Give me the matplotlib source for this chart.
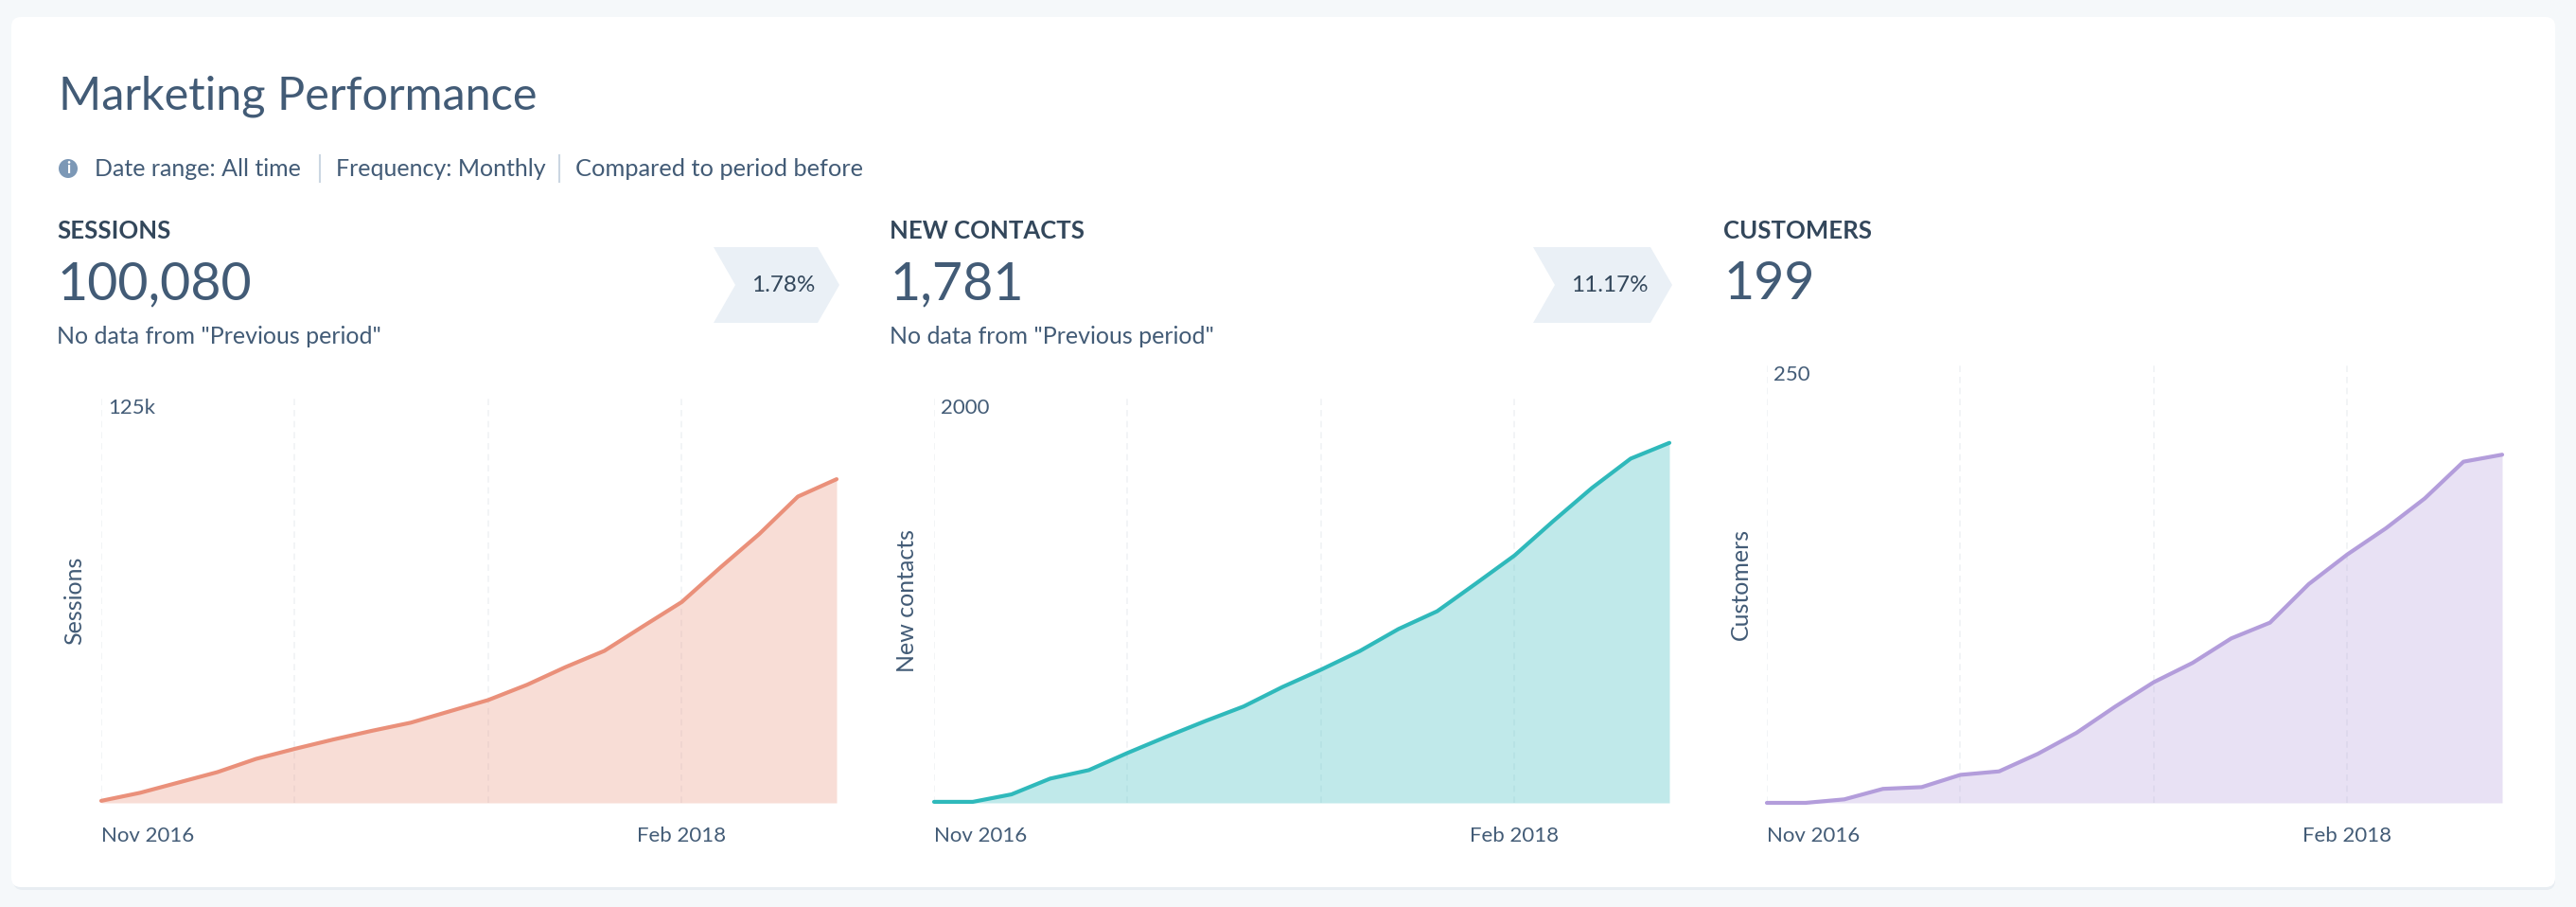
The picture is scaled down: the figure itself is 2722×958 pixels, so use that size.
import matplotlib
matplotlib.use('Agg')
import matplotlib.pyplot as plt
from matplotlib.patches import FancyBboxPatch, Polygon, Circle

W, H = 2722, 958

plt.rcParams['font.family'] = ['Lato', 'DejaVu Sans']

# monthly values, Nov 2016 .. Jun 2018
sessions = [630, 3100, 6300, 9500, 13600, 16700, 19600, 22300, 24800, 28300,
            31800, 36500, 42000, 47000, 54600, 62100, 72800, 83100, 94700, 100080]
new_contacts = [5, 5, 42, 120, 162, 247, 327, 404, 477, 573,
                659, 751, 860, 948, 1085, 1224, 1394, 1558, 1703, 1781]
customers = [0, 0, 2, 8, 9, 16, 18, 28, 40, 55,
             69, 80, 94, 103, 125, 142, 157, 174, 195, 199]
months = list(range(20))
grid_months = [0, 5, 10, 15]
x_ticks = [0, 15]
x_labels = ['Nov 2016', 'Feb 2018']

text_col = '#425b76'
dark_col = '#33475b'
badge_col = '#eaf0f6'


def fx(x):
    return x / W


def fy(y):
    return 1 - y / H


def draw_chart(box, values, top, top_label, ylabel, color, ylabel_x):
    left, right, ytop, ybot = box
    ax = fig.add_axes([fx(left), fy(ybot), fx(right - left), (ybot - ytop) / H])
    ax.patch.set_alpha(0)
    for g in grid_months:
        ax.axvline(g, color='#f0f2f5', lw=1.2, ls=(0, (4, 3)), zorder=1)
    ax.fill_between(months, values, 0, color=color, alpha=0.3, lw=0, zorder=2)
    ax.plot(months, values, color=color, lw=3, solid_capstyle='round',
            solid_joinstyle='round', zorder=3, clip_on=False)
    ax.set_xlim(0, 19)
    ax.set_ylim(0, top)
    for s in ax.spines.values():
        s.set_visible(False)
    ax.set_xticks(x_ticks, x_labels, fontsize=16, color=text_col)
    ax.get_xticklabels()[0].set_ha('left')
    ax.set_yticks([top], [top_label], fontsize=16, color=text_col)
    ax.get_yticklabels()[0].set_ha('left')
    ax.get_yticklabels()[0].set_va('top')
    ax.tick_params(axis='x', length=0, pad=18)
    ax.tick_params(axis='y', length=0, pad=-5)
    fig.text(fx(ylabel_x), fy(ybot) + (ybot - ytop) / H / 2, ylabel, rotation=90,
             ha='center', va='center', fontsize=18, color=text_col)
    return ax


def draw_head(x, name, total, note=None):
    fig.text(fx(x), fy(252), name, fontsize=18.5, color=dark_col, weight='bold', va='baseline')
    fig.text(fx(x + 1), fy(316), total, fontsize=40, color=text_col, va='baseline')
    if note:
        fig.text(fx(x), fy(363), note, fontsize=18, color=text_col, va='baseline')


def draw_badge(x0, x1, label):
    pts = [(x0, 261), (x1 - 23, 261), (x1, 301), (x1 - 23, 341), (x0, 341), (x0 + 23, 301)]
    bg.add_patch(Polygon(pts, closed=True, fc=badge_col, ec='none'))
    bg.text((x0 + x1) / 2 + 7, 301, label, fontsize=17.5, color=dark_col, ha='center', va='center')


fig = plt.figure(figsize=(W / 100, H / 100), dpi=100, facecolor='#f5f8fa')

# full-figure layer in pixels for the card and header furniture
bg = fig.add_axes([0, 0, 1, 1])
bg.set_xlim(0, W)
bg.set_ylim(H, 0)
bg.axis('off')
bg.add_patch(FancyBboxPatch((14, 21), 2686, 919, boxstyle='round,pad=0,rounding_size=10',
                            fc='#e8edf2', ec='none'))
bg.add_patch(FancyBboxPatch((12, 18), 2688, 919, boxstyle='round,pad=0,rounding_size=10',
                            fc='white', ec='none'))

bg.text(62, 115, 'Marketing Performance', fontsize=35, color=text_col, va='baseline')

bg.add_patch(Circle((72, 178), 10, fc='#7c98b6', ec='none'))
bg.text(72, 178, 'i', fontsize=12, color='white', ha='center', va='center', weight='bold')
bg.text(100, 186, 'Date range: All time', fontsize=18, color=text_col, va='baseline')
bg.plot([338, 338], [164, 192], color='#cbd6e2', lw=1.5)
bg.text(355, 186, 'Frequency: Monthly', fontsize=18, color=text_col, va='baseline')
bg.plot([591, 591], [164, 192], color='#cbd6e2', lw=1.5)
bg.text(608, 186, 'Compared to period before', fontsize=18.3, color=text_col, va='baseline')

draw_head(60, 'SESSIONS', '100,080', 'No data from "Previous period"')
draw_head(940, 'NEW CONTACTS', '1,781', 'No data from "Previous period"')
draw_head(1821, 'CUSTOMERS', '199')
draw_badge(754, 887, '1.78%')
draw_badge(1620, 1767, '11.17%')

draw_chart((107, 884, 421, 848), sessions, 125000, '125k', 'Sessions', '#ea907a', 79)
draw_chart((987, 1764, 421, 848), new_contacts, 2000, '2000', 'New contacts', '#2fb9bb', 959)
draw_chart((1867, 2644, 386, 848), customers, 250, '250', 'Customers', '#b39ddb', 1839)

fig.savefig('out.png', dpi=100, facecolor=fig.get_facecolor())
